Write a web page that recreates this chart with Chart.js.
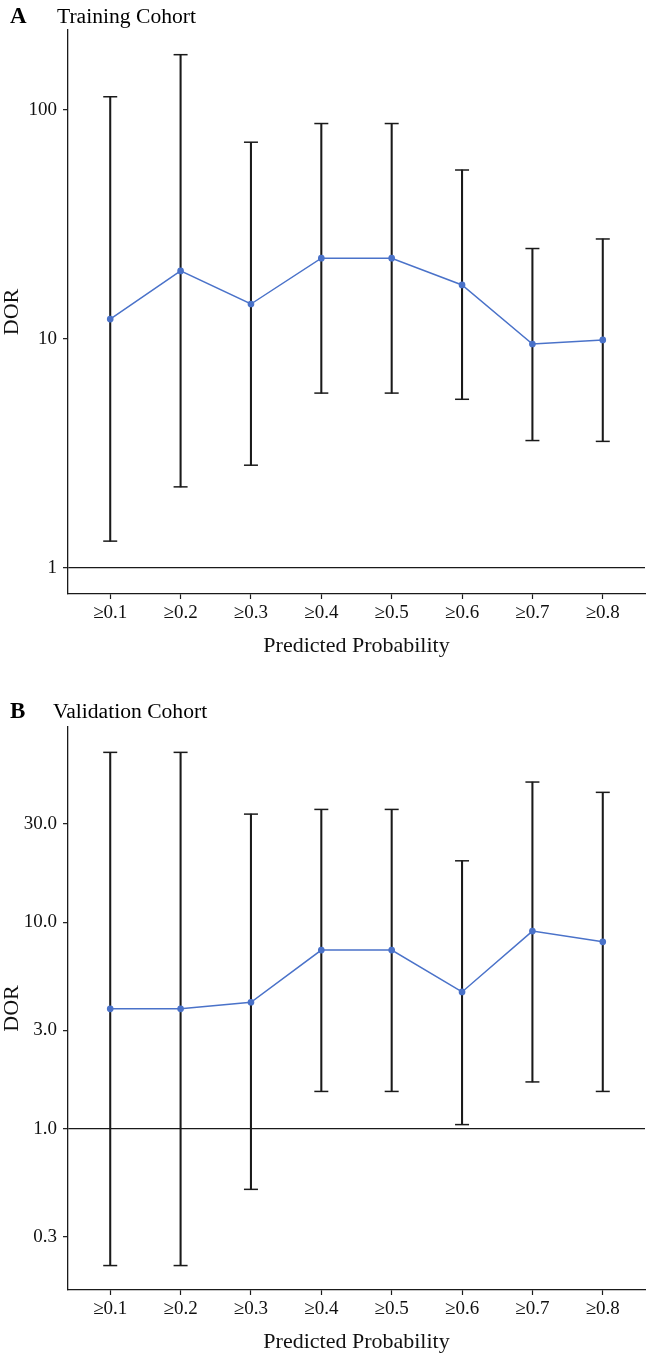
<!DOCTYPE html>
<html>
<head>
<meta charset="utf-8">
<script src="https://cdn.jsdelivr.net/npm/chart.js@4.4.1/dist/chart.umd.min.js"></script>
<style>
  body { margin: 0; background: #fff; }
  #page { position: relative; width: 646px; height: 1355px; font-family: "Liberation Serif", "Times New Roman", serif; color: #000; }
  .panel { position: absolute; left: 0; width: 646px; }
  .tag { position: absolute; left: 10px; font-size: 21.6px; line-height: 1; white-space: nowrap; }
  .tag b { display: inline-block; font-size: 23px; }
</style>
</head>
<body>
<div id="page">
  <div class="panel" style="top:0;height:659px"><canvas id="chartA" width="646" height="659"></canvas></div>
  <div class="panel" style="top:697px;height:658px"><canvas id="chartB" width="646" height="658"></canvas></div>
  <div class="tag" style="top:4px"><b style="width:47px">A</b><span>Training Cohort</span></div>
  <div class="tag" style="top:699px"><b style="width:43px">B</b><span>Validation Cohort</span></div>
</div>
<script>
const categories = ["≥0.1", "≥0.2", "≥0.3", "≥0.4", "≥0.5", "≥0.6", "≥0.7", "≥0.8"];

// Training cohort: DOR with 95% CI
const dorTrain = [12.2, 19.8, 14.2, 22.5, 22.5, 17.2, 9.5, 9.9];
const lowTrain = [1.31, 2.26, 2.81, 5.8, 5.8, 5.45, 3.6, 3.57];
const highTrain = [114, 174, 72.2, 87.1, 87.1, 54.6, 24.8, 27.3];
const ticksTrain = [1, 10, 100];
const tickLabelsTrain = ["1", "10", "100"];

// Validation cohort
const dorValid = [3.82, 3.82, 4.11, 7.35, 7.35, 4.61, 9.09, 8.06];
const lowValid = [0.218, 0.218, 0.51, 1.52, 1.52, 1.05, 1.69, 1.52];
const highValid = [66.7, 66.7, 33.5, 35.3, 35.3, 19.9, 47.9, 42.7];
const ticksValid = [0.3, 1, 3, 10, 30];
const tickLabelsValid = ["0.3", "1.0", "3.0", "10.0", "30.0"];

Chart.defaults.font.family = "'Liberation Serif', 'Times New Roman', serif";
Chart.defaults.color = "#111";

const BLUE = "#4a72c9";
const INK = "#1a1a1a";

function makeChart(id, dor, low, high, yTicks, yLabels, yMin, yMax) {
  const xs = categories.map((_, i) => i + 1);
  const ctx = document.getElementById(id).getContext("2d");
  return new Chart(ctx, {
    type: "scatter",
    data: {
      datasets: [
        {
          type: "line",
          data: xs.map((x, i) => ({ x: x, y: dor[i] })),
          borderColor: BLUE,
          backgroundColor: BLUE,
          borderWidth: 1.5,
          pointRadius: 2.6,
          showLine: true,
          fill: false,
          tension: 0,
        },
        {
          type: "bar",
          data: xs.map((x, i) => ({ x: x, y: [low[i], high[i]] })),
          backgroundColor: INK,
          barThickness: 1.4,
          grouped: false,
        },
        {
          // caps at the top of each interval
          data: xs.map((x, i) => ({ x: x, y: high[i] })),
          pointStyle: "line",
          pointRadius: 7,
          borderColor: INK,
          borderWidth: 1.5,
        },
        {
          // caps at the bottom
          data: xs.map((x, i) => ({ x: x, y: low[i] })),
          pointStyle: "line",
          pointRadius: 7,
          borderColor: INK,
          borderWidth: 1.5,
        },
      ],
    },
    options: {
      responsive: false,
      animation: false,
      layout: { autoPadding: false, padding: { top: 30, right: 1, left: 0, bottom: 0 } },
      plugins: { legend: { display: false }, tooltip: { enabled: false } },
      scales: {
        x: {
          type: "linear",
          min: 0.4,
          max: 8.6,
          offset: false,
          afterBuildTicks: (scale) => { scale.ticks = xs.map((v) => ({ value: v })); },
          afterFit: (scale) => { scale.height = 65; },
          ticks: {
            autoSkip: false,
            maxRotation: 0,
            padding: 3,
            font: { size: 19 },
            color: "#111",
            callback: (v) => categories[v - 1],
          },
          grid: {
            offset: false,
            drawOnChartArea: false,
            drawTicks: true,
            tickLength: 5,
            tickColor: INK,
            tickWidth: 1.2,
          },
          border: { display: true, color: INK, width: 1.3 },
          title: {
            display: true,
            text: "Predicted Probability",
            font: { size: 22, lineHeight: 1.2 },
            color: "#111",
            padding: { top: 0, bottom: 0 },
          },
        },
        y: {
          type: "logarithmic",
          min: yMin,
          max: yMax,
          bounds: "data",
          afterBuildTicks: (scale) => { scale.ticks = yTicks.map((v) => ({ value: v })); },
          afterFit: (scale) => { scale.width = 68; },
          ticks: {
            autoSkip: false,
            padding: 6,
            font: { size: 19 },
            color: "#111",
            callback: (v, i) => yLabels[i],
          },
          grid: {
            drawTicks: true,
            tickLength: 5,
            tickColor: INK,
            tickWidth: 1.2,
            lineWidth: 1.3,
            color: (c) => (c.tick && c.tick.value === 1 ? INK : "rgba(0,0,0,0)"),
          },
          border: { display: true, color: INK, width: 1.3 },
          title: {
            display: true,
            text: "DOR",
            font: { size: 22, lineHeight: 1.1 },
            color: "#111",
            padding: { top: 0, bottom: 0 },
          },
        },
      },
    },
  });
}

makeChart("chartA", dorTrain, lowTrain, highTrain, ticksTrain, tickLabelsTrain, 0.77, 223);
makeChart("chartB", dorValid, lowValid, highValid, ticksValid, tickLabelsValid, 0.166, 88.5);
</script>
</body>
</html>
